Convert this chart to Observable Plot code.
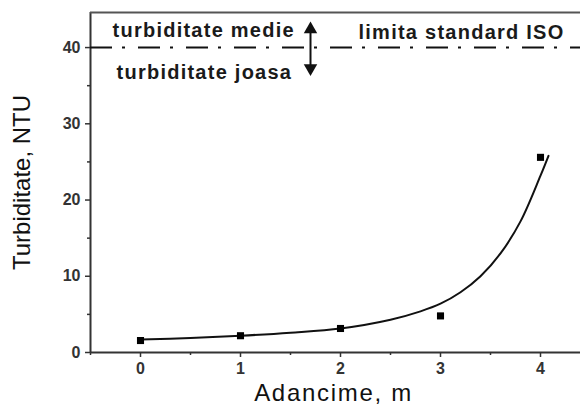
<!DOCTYPE html>
<html>
<head>
<meta charset="utf-8">
<script src="https://cdn.jsdelivr.net/npm/d3@7"></script>
<script src="https://cdn.jsdelivr.net/npm/@observablehq/plot@0.6"></script>
<style>
  html, body { margin: 0; padding: 0; background: #fff; }
  #chart svg { display: block; }
</style>
</head>
<body>
<div id="chart"></div>
<script>
// Measured points
const depth = [0, 1, 2, 3, 4];
const turbidity = [1.57, 2.2, 3.15, 4.8, 25.6];

// Fitted curve
const curveX = [0, 0.5, 1, 1.5, 2, 2.5, 2.8, 3, 3.2, 3.4, 3.6, 3.8, 4, 4.08];
const curveY = [1.7, 1.9, 2.2, 2.6, 3.15, 4.3, 5.4, 6.4, 7.9, 10.0, 13.0, 17.2, 23.2, 25.8];

// Axes
const xDomain = [-0.5, 4.4];
const yDomain = [0, 44.6];
const xTicks = [0, 1, 2, 3, 4];
const xMinor = [-0.5, 0.5, 1.5, 2.5, 3.5];
const yTicks = [0, 10, 20, 30, 40];
const yMinor = [5, 15, 25, 35];

// ISO limit and annotations
const isoLimit = 40;
const labels = [
  {x: -0.28, y: 42.2, text: "turbiditate medie"},
  {x: -0.24, y: 36.7, text: "turbiditate joasa"},
  {x: 2.18, y: 42.0, text: "limita standard ISO"}
];
const xLabel = "Adancime, m";
const yLabel = "Turbiditate, NTU";
const arrowX = 1.7;
const arrowTop = 42.4;
const arrowBottom = 37.3;

const points = depth.map((d, i) => ({x: d, y: turbidity[i]}));
const fit = curveX.map((d, i) => ({x: d, y: curveY[i]}));
const heads = [{y: arrowTop, rot: 0}, {y: arrowBottom, rot: 180}];

const ink = "#333";
const font = "'Liberation Sans', Arial, sans-serif";

const chart = Plot.plot({
  width: 580,
  height: 412,
  marginLeft: 90,
  marginRight: 0,
  marginTop: 12,
  marginBottom: 60,
  style: {fontFamily: font, background: "#fff"},
  x: {domain: xDomain},
  y: {domain: yDomain},
  marks: [
    Plot.axisX({ticks: xTicks, tickFormat: d => String(d), tickSize: 5, tickPadding: 5, fontSize: 16, fontWeight: "bold", stroke: ink, strokeWidth: 1.5, fill: ink, label: null}),
    Plot.axisX({ticks: xMinor, tickSize: 3, text: null, stroke: ink, strokeWidth: 1.5, label: null}),
    Plot.axisY({ticks: yTicks, tickSize: 5, tickPadding: 5, fontSize: 16, fontWeight: "bold", stroke: ink, strokeWidth: 1.5, fill: ink, label: null}),
    Plot.axisY({ticks: yMinor, tickSize: 3, text: null, stroke: ink, strokeWidth: 1.5, label: null}),
    Plot.ruleX([xDomain[0]], {stroke: ink, strokeWidth: 2}),
    Plot.ruleY([yDomain[0]], {stroke: ink, strokeWidth: 2}),
    Plot.ruleY([yDomain[1]], {stroke: "#555", strokeWidth: 2}),
    Plot.ruleY([isoLimit], {stroke: "#111", strokeWidth: 2, strokeDasharray: "22,10,3,13"}),
    Plot.ruleX([arrowX], {y1: arrowBottom, y2: arrowTop, stroke: "#111", strokeWidth: 2}),
    Plot.dot(heads, {x: () => arrowX, y: "y", rotate: "rot", symbol: "triangle", r: 5, fill: "#111", stroke: "none"}),
    Plot.text(labels, {x: "x", y: "y", text: "text", textAnchor: "start", fontSize: 20, fontWeight: "bold", fill: "#1a1a1a"}),
    Plot.line(fit, {x: "x", y: "y", curve: "catmull-rom", stroke: "#111", strokeWidth: 2}),
    Plot.dot(points, {x: "x", y: "y", symbol: "square", r: 4, fill: "#000", stroke: "none"}),
    Plot.text([yLabel], {frameAnchor: "left", textAnchor: "middle", dx: -68, rotate: -90, fontSize: 24, fill: "#111", text: d => d}),
    Plot.text([xLabel], {frameAnchor: "bottom", dy: 48, dx: -2, fontSize: 24, fill: "#111", text: d => d})
  ]
});

// widen horizontal text to match the reference's stretched lettering
const annotationTexts = labels.map(d => d.text);
d3.select(chart).selectAll("text").each(function() {
  const t = this.textContent;
  if (annotationTexts.includes(t)) this.style.letterSpacing = "1.25px";
  else if (t === xLabel) this.style.letterSpacing = "1.7px";
});
document.getElementById("chart").appendChild(chart);
</script>
</body>
</html>
